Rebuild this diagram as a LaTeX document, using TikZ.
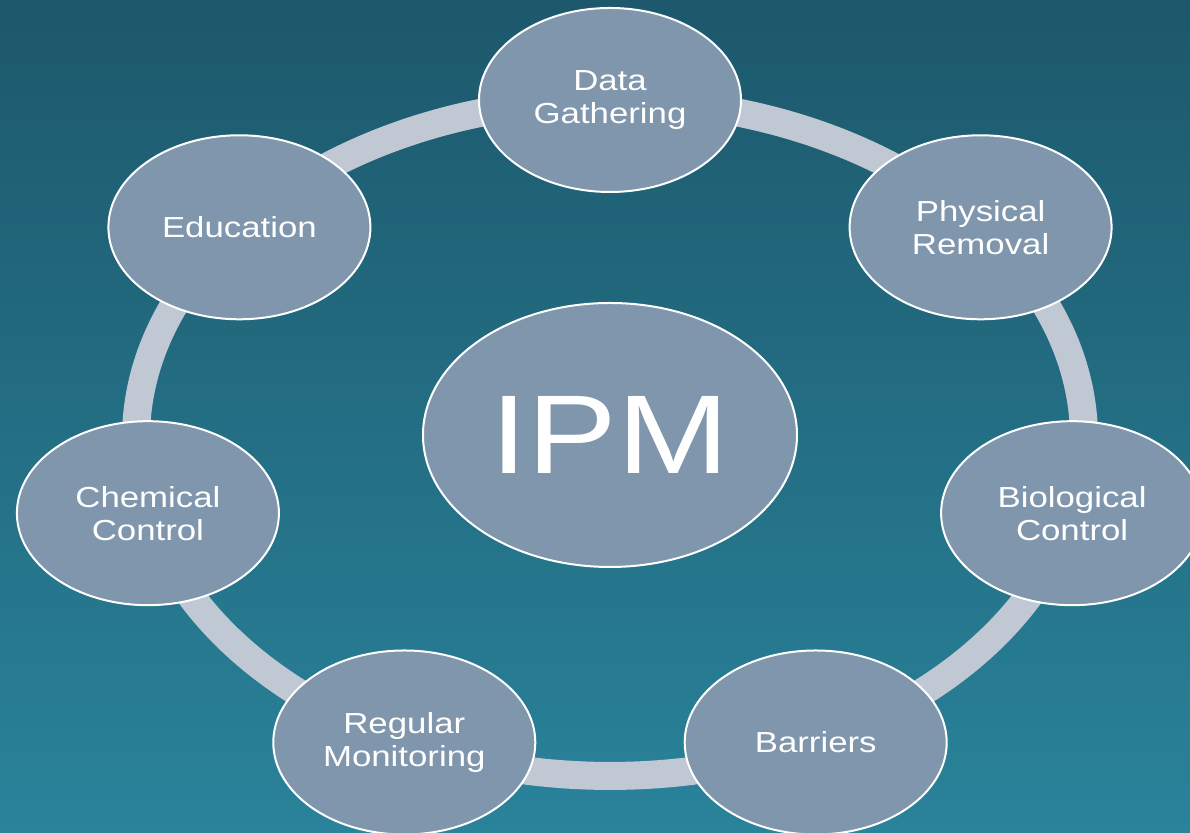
\documentclass[tikz,border=0pt]{standalone}
\usepackage{fontspec}
\setmainfont{Liberation Sans}[FakeStretch=1.2]
\usepackage{tikz}
\usepackage{xcolor}
\usetikzlibrary{shapes.geometric}
\definecolor{bgtop}{RGB}{29, 88, 108}
\definecolor{bgmid}{RGB}{34, 106, 127}
\definecolor{bgbot}{RGB}{41, 131, 154}
\definecolor{bubble}{RGB}{127, 150, 172}
\definecolor{ringc}{RGB}{192, 200, 212}
\pgfdeclarelayer{sea}
\pgfdeclarelayer{track}
\pgfsetlayers{sea,track,main}

\begin{document}
\begin{tikzpicture}[
    x=0.5pt, y=0.5pt,
    stagebox/.style={
        ellipse,
        draw=white,
        line width=1pt,
        fill=bubble,
        text=white,
        align=center,
        inner sep=0pt,
        minimum width=131pt,
        minimum height=92pt,
        font=\fontsize{14.5}{16.5}\selectfont
    },
    hubbox/.style={
        stagebox,
        minimum width=187pt,
        minimum height=132pt,
        font=\fontsize{56}{60}\selectfont
    },
    ring/.style={line width=14pt, ringc}
]

% === Background ===
\useasboundingbox (0,0) rectangle (1190,833);
\begin{pgfonlayer}{sea}
\fill[top color=bgtop, middle color=bgmid, bottom color=bgbot] (0,0) rectangle (1190,833);
\end{pgfonlayer}

% === Stages (on the ring, centre (610,395)) ===
\node[stagebox] (dg) at (610,733)      {Data\\Gathering};
\node[stagebox] (pr) at (980.6,605.7)  {Physical\\Removal};
\node[stagebox] (bc) at (1072.1,319.8) {Biological\\Control};
\node[stagebox] (ba) at (815.7,90.5)   {Barriers};
\node[stagebox] (rm) at (404.3,90.5)   {Regular\\Monitoring};
\node[stagebox] (cc) at (147.9,319.8)  {Chemical\\Control};
\node[stagebox] (ed) at (239.4,605.7)  {Education};

% === Hub ===
\node[hubbox] (ipm) at (610,398) {IPM};

% === Ring ===
\begin{pgfonlayer}{track}
\draw[ring] (dg.center) arc[start angle=90,       end angle=38.571,   x radius=237pt, y radius=169pt];
\draw[ring] (pr.center) arc[start angle=38.571,   end angle=-12.857,  x radius=237pt, y radius=169pt];
\draw[ring] (bc.center) arc[start angle=-12.857,  end angle=-64.286,  x radius=237pt, y radius=169pt];
\draw[ring] (ba.center) arc[start angle=-64.286,  end angle=-115.714, x radius=237pt, y radius=169pt];
\draw[ring] (rm.center) arc[start angle=-115.714, end angle=-167.143, x radius=237pt, y radius=169pt];
\draw[ring] (cc.center) arc[start angle=-167.143, end angle=-218.571, x radius=237pt, y radius=169pt];
\draw[ring] (ed.center) arc[start angle=141.429,  end angle=90,       x radius=237pt, y radius=169pt];
\end{pgfonlayer}

\end{tikzpicture}
\end{document}
